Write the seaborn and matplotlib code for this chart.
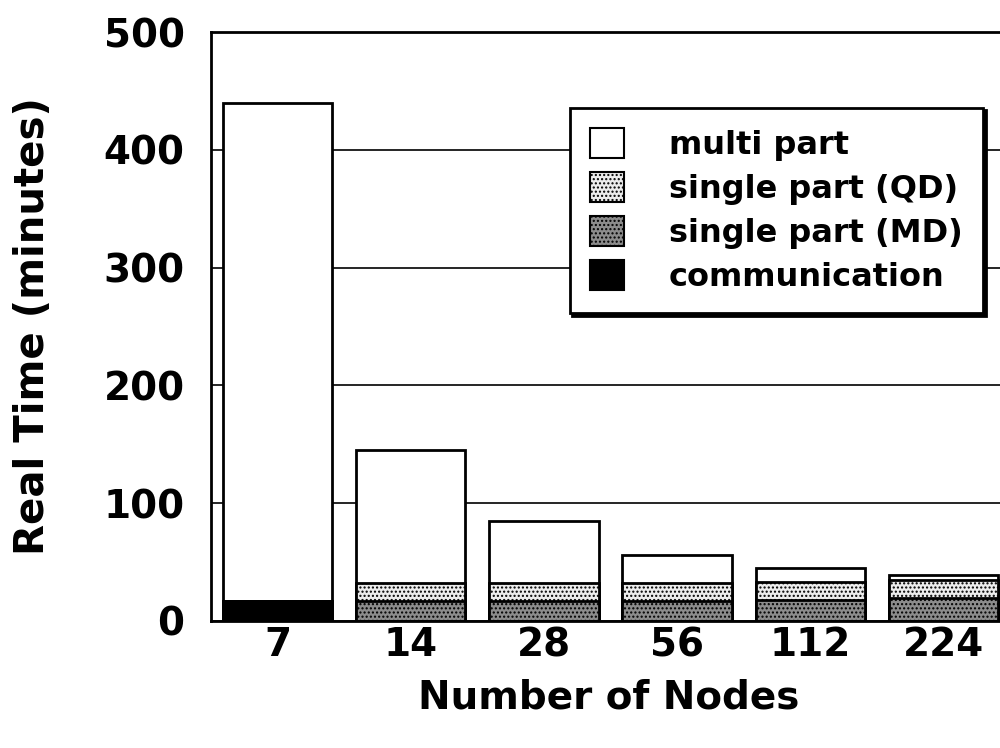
import matplotlib
matplotlib.use('Agg')
import matplotlib.pyplot as plt
from matplotlib.patches import Patch
import seaborn as sns

# Values (minutes)
nodes = ['7', '14', '28', '56', '112', '224']
communication = [17, 0, 0, 0, 0, 0]
single_md = [0, 17, 17, 17, 18, 19]
single_qd = [0, 15, 15, 15, 15, 16]
multi_part = [423, 113, 53, 24, 12, 4]

sns.set_style('white')
plt.rcParams['font.family'] = ['DejaVu Sans']
plt.rcParams['font.weight'] = 'bold'
plt.rcParams['hatch.linewidth'] = 1.0
for k in ['text.color', 'axes.labelcolor', 'xtick.color', 'ytick.color']:
    plt.rcParams[k] = 'black'

# cumulative heights so bars can be drawn on top of each other
lvl1 = [c for c in communication]
lvl2 = [a + b for a, b in zip(lvl1, single_md)]
lvl3 = [a + b for a, b in zip(lvl2, single_qd)]
lvl4 = [a + b for a, b in zip(lvl3, multi_part)]

fig = plt.figure(figsize=(10, 7.48), dpi=100)
ax = fig.add_axes([0.211, 0.170, 0.795, 0.787])

styles = [
    (lvl4, 'white', None, 'multi part'),
    (lvl3, '#ececec', '....', 'single part (QD)'),
    (lvl2, '#8c8c8c', '....', 'single part (MD)'),
    (lvl1, 'black', None, 'communication'),
]
for vals, col, hatch, lab in styles:
    sns.barplot(x=nodes, y=vals, order=nodes, color=col, saturation=1,
                edgecolor='black', linewidth=2, hatch=hatch, width=0.82, ax=ax)

ax.set_ylim(0, 500)
ax.set_xlim(-0.5, 5.47)
ax.set_yticks([0, 100, 200, 300, 400, 500])
ax.yaxis.grid(True, color='black', linewidth=1.2)
ax.set_axisbelow(True)
for s in ['left', 'top', 'bottom']:
    ax.spines[s].set_color('black')
    ax.spines[s].set_linewidth(2)
ax.spines['right'].set_visible(False)
ax.tick_params(axis='both', length=0, labelsize=28)
ax.tick_params(axis='y', pad=19)
ax.tick_params(axis='x', pad=4)
for t in ax.get_xticklabels() + ax.get_yticklabels():
    t.set_fontweight('bold')

ax.set_xlabel('Number of Nodes', fontsize=28, fontweight='bold', labelpad=10)
ax.set_ylabel('Real Time (minutes)', fontsize=29, fontweight='bold', labelpad=36)

handles = [Patch(facecolor=col, edgecolor='black', hatch=h, linewidth=1.5, label=lab)
           for _, col, h, lab in styles]
leg = ax.legend(handles=handles, loc='upper left', bbox_to_anchor=(0.451, 0.872),
                fontsize=23, frameon=True, fancybox=False, shadow={'color': 'black', 'alpha': 1},
                handlelength=1.05, handleheight=1.05, handletextpad=1.4,
                borderpad=0.65, labelspacing=0.35, borderaxespad=0)
leg.get_frame().set_edgecolor('black')
leg.get_frame().set_linewidth(2)
for t in leg.get_texts():
    t.set_fontweight('bold')

fig.savefig('out.png', dpi=100)
